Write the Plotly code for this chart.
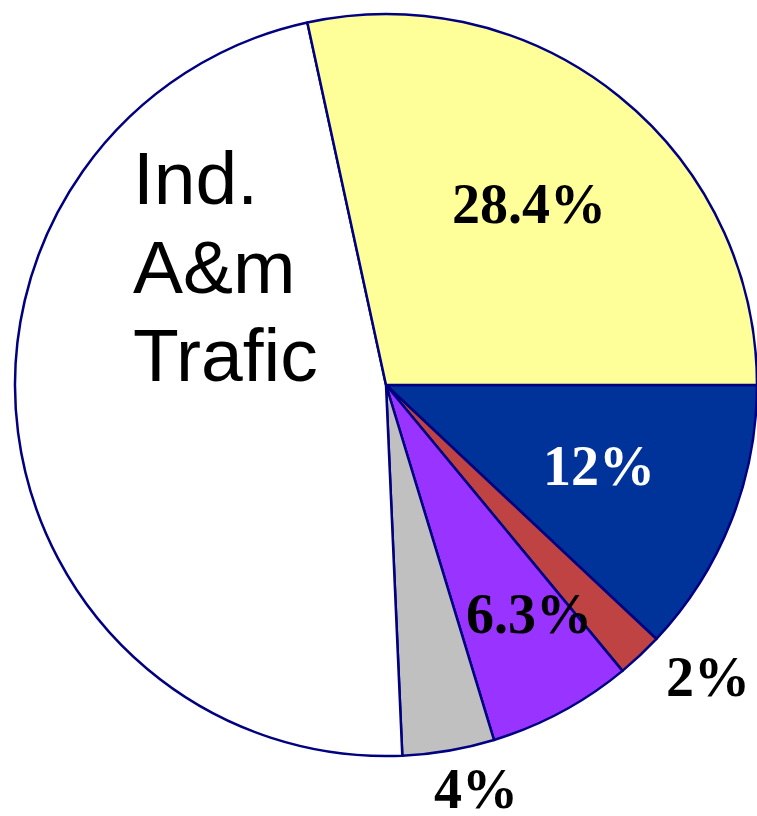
import plotly.graph_objects as go

# Data, listed clockwise from 3 o'clock
labels = ["Blue", "Red", "Purple", "Gray", "Ind. A&m Trafic", "Yellow"]
values = [12, 2, 6.3, 4, 47.3, 28.4]
colors = ["#003399", "#BF4343", "#9933FF", "#C0C0C0", "#FFFFFF", "#FFFF99"]
big_label = "Ind. A&m Trafic"

W, H = 757, 816
ML, MR, MT, MB = 15, 0, 14, 60

def px(x):
    return (x - ML) / (W - ML - MR)

def py(y):
    return 1 - (y - MT) / (H - MT - MB)

fig = go.Figure(go.Pie(
    labels=labels,
    values=values,
    sort=False,
    direction="clockwise",
    rotation=90,
    marker=dict(colors=colors, line=dict(color="#000080", width=2.5)),
    textinfo="none",
    hoverinfo="label+percent",
    showlegend=False,
))

serif = "Liberation Serif, Times New Roman, serif"
sans = "Liberation Sans, Arial, sans-serif"

# percentage labels: (value index, pixel position, colour)
pct_pos = {5: (529, 204, "black"), 0: (599, 466, "white"), 2: (529, 614, "black"),
           1: (708, 677, "black"), 3: (476, 789, "black")}
for i, (x, y, c) in pct_pos.items():
    fig.add_annotation(text=f"<b>{values[i]:g}%</b>", x=px(x), y=py(y), xref="paper", yref="paper",
                       xanchor="center", yanchor="middle", showarrow=False,
                       font=dict(family=serif, size=56, color=c))

# big label in white slice, one word per line
for word, yb in zip(big_label.split(" "), [178, 267, 355]):
    fig.add_annotation(text=word, x=px(131), y=py(yb), xref="paper", yref="paper",
                       xanchor="left", yanchor="middle", showarrow=False,
                       font=dict(family=sans, size=75, color="black"))

fig.update_layout(
    width=W, height=H,
    margin=dict(l=ML, r=MR, t=MT, b=MB),
    paper_bgcolor="white", plot_bgcolor="white",
)

fig.write_html("out.html", config={"displayModeBar": False},
               post_script="document.body.style.margin='0';document.body.style.overflow='hidden';")
